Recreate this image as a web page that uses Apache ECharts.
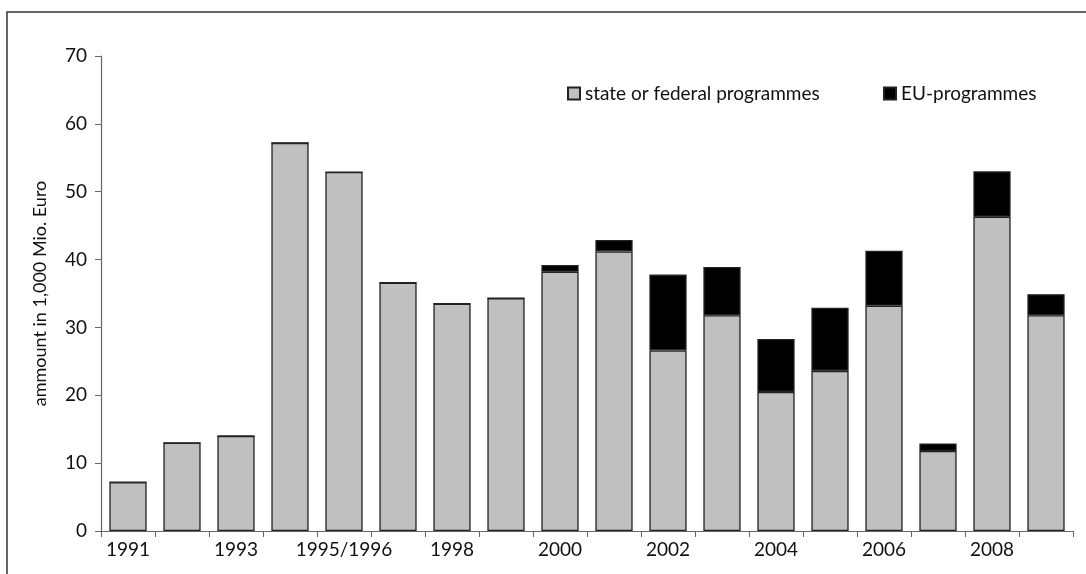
<!DOCTYPE html>
<html>
<head>
<meta charset="utf-8">
<script src="https://cdn.jsdelivr.net/npm/echarts@6/dist/echarts.min.js"></script>
<style>
html,body{margin:0;padding:0;background:#fff;}
#chart{width:1086px;height:574px;}
</style>
</head>
<body>
<div id="chart"></div>
<script>
const categories = ['1991','1992','1993','1994','1995/1996','1997','1998','1999','2000','2001','2002','2003','2004','2005','2006','2007','2008','2009'];
const stateFederal = [7.2, 13.0, 14.0, 57.2, 52.9, 36.6, 33.5, 34.3, 38.2, 41.2, 26.6, 31.8, 20.5, 23.6, 33.2, 11.8, 46.3, 31.8];
const euProgrammes = [0, 0, 0, 0, 0, 0, 0, 0, 1.0, 1.7, 11.2, 7.1, 7.8, 9.3, 8.1, 1.1, 6.7, 3.1];
const yTicks = [0, 10, 20, 30, 40, 50, 60, 70];

const font = 'Lato, "Open Sans", sans-serif';
const chart = echarts.init(document.getElementById('chart'), null, {renderer: 'canvas'});
chart.setOption({
  animation: false,
  backgroundColor: '#fff',
  textStyle: {fontFamily: font},
  graphic: [{
    type: 'rect',
    shape: {x: 7, y: 12, width: 1200, height: 700},
    style: {fill: 'none', stroke: '#333', lineWidth: 1.5},
    silent: true
  }],
  legend: [{
    left: 562, top: 79,
    icon: 'rect',
    itemWidth: 12, itemHeight: 12, itemGap: 8,
    data: ['state or federal programmes'],
    textStyle: {fontFamily: font, fontSize: 19, color: '#111'}
  }, {
    left: 878, top: 79,
    icon: 'rect',
    itemWidth: 12, itemHeight: 12,
    data: ['EU-programmes'],
    textStyle: {fontFamily: font, fontSize: 19, color: '#111'}
  }],
  grid: {left: 101, right: 13, top: 56, bottom: 43, containLabel: false},
  xAxis: {
    type: 'category',
    data: categories,
    boundaryGap: true,
    axisLine: {lineStyle: {color: '#666', width: 1.2}},
    axisTick: {show: true, interval: 0, length: 6, lineStyle: {color: '#666'}},
    axisLabel: {interval: 1, margin: 9, fontSize: 19, color: '#111', fontFamily: font}
  },
  yAxis: {
    type: 'value',
    min: yTicks[0], max: yTicks[yTicks.length - 1], interval: 10,
    name: 'ammount in 1,000 Mio. Euro',
    nameLocation: 'middle',
    nameGap: 52,
    nameTextStyle: {fontSize: 18, color: '#111', fontFamily: font},
    axisLine: {show: true, lineStyle: {color: '#666', width: 1.2}},
    axisTick: {show: true, length: 6, lineStyle: {color: '#666'}},
    splitLine: {show: false},
    axisLabel: {margin: 14, fontSize: 19, color: '#111', fontFamily: font}
  },
  series: [{
    name: 'state or federal programmes',
    type: 'bar',
    stack: 'total',
    barWidth: '69%',
    data: stateFederal,
    itemStyle: {color: '#c0c0c0', borderColor: '#222', borderWidth: 1.3}
  }, {
    name: 'EU-programmes',
    type: 'bar',
    stack: 'total',
    barWidth: '69%',
    data: euProgrammes,
    itemStyle: {color: '#000', borderColor: '#222', borderWidth: 1.3}
  }]
});
</script>
</body>
</html>
